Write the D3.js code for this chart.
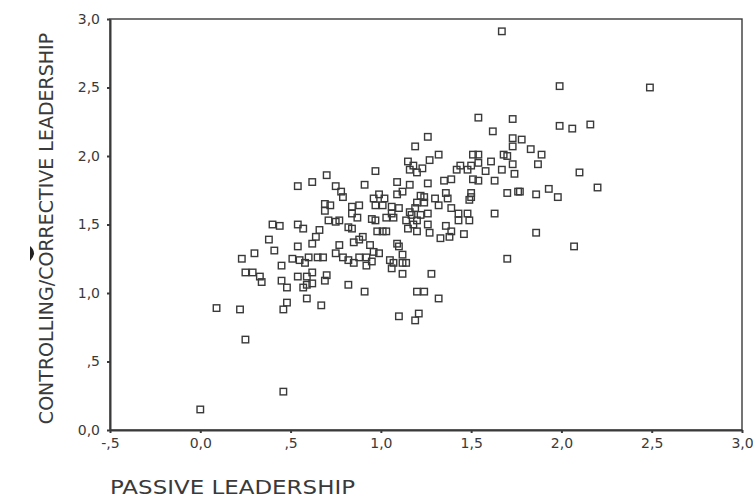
<!DOCTYPE html>
<html>
<head>
<meta charset="utf-8">
<script src="https://d3js.org/d3.v7.min.js"></script>
<style>
  html, body { margin: 0; padding: 0; background: #fff; }
  svg text { font-family: 'DejaVu Sans', sans-serif; fill: #3a3a3a; }
</style>
</head>
<body>
<script>
// passive leadership (x) and controlling/corrective leadership (y), one pair per respondent
var passive = [
  0.00, 0.46, 0.25, 0.09, 0.22, 0.23, 0.25, 0.29, 0.33, 0.34, 0.30, 0.38, 0.40, 0.44,
  0.54, 0.57, 0.41, 0.45, 0.45, 0.48, 0.51, 0.54, 0.62, 0.54, 0.59, 0.59, 0.62, 0.62,
  0.70, 0.69, 0.48, 0.46, 0.59, 0.67, 0.82, 0.91, 0.55, 0.58, 0.60, 0.65, 0.68,
  0.54, 0.62, 0.70, 0.75, 0.78, 0.79, 0.91, 0.97, 1.09, 1.16, 1.26, 1.35, 1.39, 1.51,
  1.54, 1.63,
  0.69, 0.72, 0.69, 0.84, 0.88, 0.84, 0.87, 0.96, 0.99, 1.02, 0.97, 1.01, 1.09, 1.12,
  1.06, 1.06, 1.07, 1.03, 0.95, 0.97, 1.22, 1.24, 1.30, 1.36, 1.37, 1.50, 1.50, 1.49,
  1.70, 1.76, 1.77, 1.86, 1.93, 1.98,
  2.20, 2.10, 1.20, 1.24, 1.32, 1.39, 1.19, 1.10, 1.16, 1.22, 1.17, 1.26, 1.43, 1.48,
  1.63, 1.49, 1.43, 1.14, 1.20, 1.18, 1.26, 1.15, 1.20, 1.27, 1.33, 1.38, 1.39, 1.36,
  1.46, 1.86, 2.07, 1.10, 1.12, 1.70, 1.12, 1.14, 1.12, 1.28, 1.20, 1.24, 1.32, 1.10,
  1.21, 1.19,
  0.71, 0.75, 0.77, 0.82, 0.84, 0.66, 0.64, 0.77, 0.85, 0.90, 0.88, 0.94, 0.98, 1.01,
  1.03, 0.75, 0.79, 0.82, 0.85, 0.88, 0.92, 0.96, 0.99, 0.92, 0.95, 1.05, 1.07, 1.06,
  1.09, 0.57,
  1.54, 1.73, 1.62, 1.99, 2.06, 2.16, 1.26, 1.73, 1.78, 1.19, 1.73, 1.83, 1.32, 1.51,
  1.54, 1.68, 1.70, 1.89, 1.27, 1.15, 1.18, 1.23, 1.44, 1.50, 1.54, 1.61, 1.73, 1.87,
  1.16, 1.20, 1.42, 1.48, 1.58, 1.67, 1.74, 1.67, 1.99, 2.49
]
var controlling = [
  0.15, 0.28, 0.66, 0.89, 0.88, 1.25, 1.15, 1.15, 1.12, 1.08, 1.29, 1.39, 1.50, 1.49,
  1.50, 1.47, 1.31, 1.20, 1.09, 1.04, 1.25, 1.34, 1.36, 1.12, 1.12, 1.06, 1.15, 1.07,
  1.13, 1.09, 0.93, 0.88, 0.96, 0.91, 1.06, 1.01, 1.24, 1.22, 1.26, 1.26, 1.26,
  1.78, 1.81, 1.86, 1.78, 1.74, 1.70, 1.79, 1.89, 1.81, 1.79, 1.80, 1.82, 1.83, 1.83,
  1.82, 1.82,
  1.65, 1.64, 1.60, 1.63, 1.64, 1.58, 1.55, 1.69, 1.72, 1.69, 1.64, 1.64, 1.72, 1.74,
  1.63, 1.58, 1.55, 1.55, 1.54, 1.53, 1.71, 1.70, 1.69, 1.73, 1.69, 1.73, 1.70, 1.68,
  1.73, 1.74, 1.74, 1.72, 1.76, 1.70,
  1.77, 1.88, 1.66, 1.66, 1.64, 1.62, 1.62, 1.62, 1.59, 1.57, 1.57, 1.58, 1.58, 1.58,
  1.58, 1.53, 1.53, 1.53, 1.53, 1.50, 1.50, 1.47, 1.45, 1.44, 1.40, 1.41, 1.45, 1.49,
  1.43, 1.44, 1.34, 1.34, 1.28, 1.25, 1.22, 1.22, 1.14, 1.14, 1.01, 1.01, 0.96, 0.83,
  0.85, 0.80,
  1.53, 1.52, 1.53, 1.48, 1.47, 1.46, 1.41, 1.35, 1.37, 1.41, 1.39, 1.35, 1.45, 1.45,
  1.45, 1.29, 1.26, 1.24, 1.22, 1.26, 1.26, 1.30, 1.29, 1.20, 1.23, 1.24, 1.22, 1.18,
  1.36, 1.04,
  2.28, 2.27, 2.18, 2.22, 2.20, 2.23, 2.14, 2.13, 2.12, 2.07, 2.07, 2.05, 2.01, 2.01,
  2.01, 2.01, 2.00, 2.01, 1.97, 1.96, 1.93, 1.91, 1.93, 1.93, 1.95, 1.96, 1.94, 1.94,
  1.90, 1.88, 1.90, 1.90, 1.89, 1.90, 1.87, 2.91, 2.51, 2.50
]

var xTicks = [-0.5, 0, 0.5, 1, 1.5, 2, 2.5, 3]
var xTickLabels = ['-,5', '0,0', ',5', '1,0', '1,5', '2,0', '2,5', '3,0']
var yTicks = [0, 0.5, 1, 1.5, 2, 2.5, 3]
var yTickLabels = ['0,0', ',5', '1,0', '1,5', '2,0', '2,5', '3,0']
var xTitle = 'PASSIVE LEADERSHIP'
var yTitle = 'CONTROLLING/CORRECTIVE LEADERSHIP'

;(function () {
  'use strict'

  var dim = { w: 753, h: 499 }
  var margin = { left: 110, top: 19, right: 11, bottom: 69 }
  var inner = {
    w: dim.w - margin.left - margin.right,
    h: dim.h - margin.top - margin.bottom
  }
  var ink = '#3a3a3a'

  var svg = d3.select('body').append('svg')
    .attr('width', dim.w)
    .attr('height', dim.h)

  var x = d3.scaleLinear().domain([-0.5, 3]).range([0, inner.w])
  var y = d3.scaleLinear().domain([0, 3]).range([inner.h, 0])

  var g = svg.append('g')
    .attr('transform', 'translate(' + margin.left + ',' + margin.top + ')')

  // frame round the plot
  g.append('rect')
    .attr('width', inner.w)
    .attr('height', inner.h)
    .attr('fill', 'none')
    .attr('stroke', ink)
    .attr('stroke-width', 1.4)

  var bottomAxis = d3.axisBottom(x)
    .tickValues(xTicks)
    .tickFormat(function (d, i) { return xTickLabels[i] })
    .tickSizeInner(3).tickSizeOuter(0).tickPadding(5)

  var leftAxis = d3.axisLeft(y)
    .tickValues(yTicks)
    .tickFormat(function (d, i) { return yTickLabels[i] })
    .tickSizeInner(3).tickSizeOuter(0).tickPadding(7)

  var xa = g.append('g')
    .attr('transform', 'translate(0,' + inner.h + ')')
    .call(bottomAxis)
  var ya = g.append('g').call(leftAxis)

  ;[xa, ya].forEach(function (a) {
    a.select('.domain').attr('stroke', ink).attr('stroke-width', 2)
    a.selectAll('.tick line').attr('stroke', ink).attr('stroke-width', 2)
    a.selectAll('.tick text')
      .attr('fill', ink)
      .style('font-family', "'DejaVu Sans', sans-serif")
      .style('font-size', '14px')
  })

  // points
  var pts = passive.map(function (v, i) { return { x: v, y: controlling[i] } })
  var s = 6.5
  g.selectAll('.pt').data(pts)
    .enter().append('rect')
      .attr('class', 'pt')
      .attr('x', function (d) { return x(d.x) - s / 2 })
      .attr('y', function (d) { return y(d.y) - s / 2 })
      .attr('width', s)
      .attr('height', s)
      .attr('fill', 'none')
      .attr('stroke', ink)
      .attr('stroke-width', 1.4)

  // titles
  svg.append('text')
    .attr('x', 110)
    .attr('y', 494)
    .attr('textLength', 245)
    .attr('lengthAdjust', 'spacingAndGlyphs')
    .style('font-size', '20px')
    .text(xTitle)

  svg.append('text')
    .attr('transform', 'translate(53,' + (margin.top + inner.h / 2 + 4) + ') rotate(-90)')
    .attr('text-anchor', 'middle')
    .style('font-size', '19px')
    .text(yTitle)

  // scanner smudge left of the y title
  svg.append('path')
    .attr('d', 'M30,246 Q38,253 30,261 Z')
    .attr('fill', '#222')
}())
</script>
</body>
</html>
